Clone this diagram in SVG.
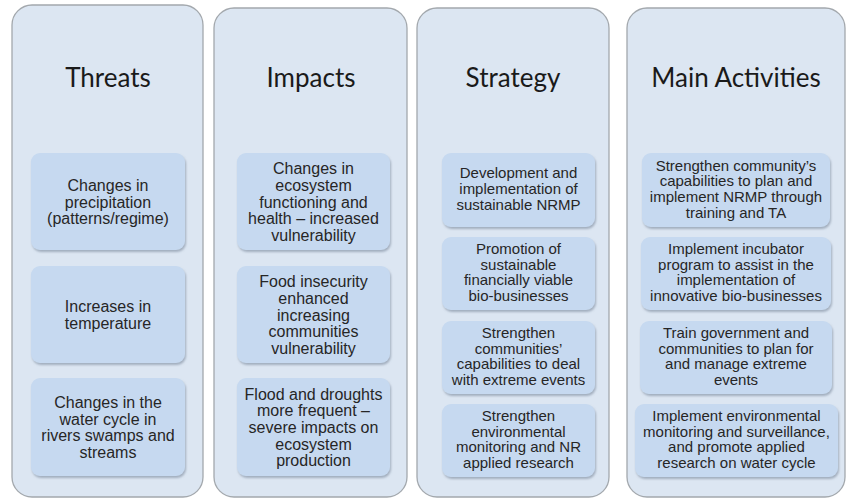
<svg xmlns="http://www.w3.org/2000/svg" width="847" height="499" viewBox="0 0 847 499">
<defs>
<filter id="sh" x="-10%" y="-10%" width="125%" height="130%">
<feDropShadow dx="1" dy="2" stdDeviation="1.2" flood-color="#6f7f93" flood-opacity="0.55"/>
</filter>
<style>
.col{fill:#dce6f2;stroke:#a3a8ad;stroke-width:1.3}
.box{fill:#c6d9f0;filter:url(#sh)}
.title{font-family:Lato,"Open Sans",sans-serif;font-size:26px;fill:#1a1a1a;text-anchor:middle}
.t16{font-family:"Liberation Sans",Arial,sans-serif;font-size:16px;fill:#262626;text-anchor:middle}
.t15{font-family:"Liberation Sans",Arial,sans-serif;font-size:15px;fill:#262626;text-anchor:middle}
</style>
</defs>
<rect width="847" height="499" fill="#ffffff"/>

<g id="threats">
<rect class="col" x="12" y="5" width="191" height="492" rx="20"/>
<text class="title" x="108" y="87">Threats</text>
</g>
<g id="impacts">
<rect class="col" x="214" y="8" width="193" height="489" rx="20"/>
<text class="title" x="311" y="87">Impacts</text>
</g>
<g id="strategy">
<rect class="col" x="417" y="8" width="192" height="489" rx="20"/>
<text class="title" x="513" y="87">Strategy</text>
</g>
<g id="activities">
<rect class="col" x="627" y="8" width="218" height="489" rx="20"/>
<text class="title" x="736" y="87">Main Activities</text>
</g>

<g id="connectors"></g>

<g id="threat1">
<rect class="box" x="31" y="153" width="154" height="97" rx="9"/>
<text class="t16"><tspan x="108" y="190.8">Changes in</tspan><tspan x="108" y="207.5">precipitation</tspan><tspan x="108" y="224.2">(patterns/regime)</tspan></text>
</g>
<g id="threat2">
<rect class="box" x="31" y="266" width="154" height="97" rx="9"/>
<text class="t16"><tspan x="108" y="312.2">Increases in</tspan><tspan x="108" y="328.9">temperature</tspan></text>
</g>
<g id="threat3">
<rect class="box" x="31" y="378" width="154" height="98" rx="9"/>
<text class="t16"><tspan x="108" y="408">Changes in the</tspan><tspan x="108" y="424.7">water cycle in</tspan><tspan x="108" y="441.4">rivers swamps and</tspan><tspan x="108" y="458.1">streams</tspan></text>
</g>

<g id="impact1">
<rect class="box" x="237" y="153" width="153" height="97" rx="9"/>
<text class="t16"><tspan x="313.5" y="174.1">Changes in</tspan><tspan x="313.5" y="190.8">ecosystem</tspan><tspan x="313.5" y="207.5">functioning and</tspan><tspan x="313.5" y="224.2">health – increased</tspan><tspan x="313.5" y="240.9">vulnerability</tspan></text>
</g>
<g id="impact2">
<rect class="box" x="237" y="266" width="153" height="97" rx="9"/>
<text class="t16"><tspan x="313.5" y="287.1">Food insecurity</tspan><tspan x="313.5" y="303.8">enhanced</tspan><tspan x="313.5" y="320.5">increasing</tspan><tspan x="313.5" y="337.2">communities</tspan><tspan x="313.5" y="353.9">vulnerability</tspan></text>
</g>
<g id="impact3">
<rect class="box" x="237" y="378" width="153" height="98" rx="9"/>
<text class="t16"><tspan x="313.5" y="399.6">Flood and droughts</tspan><tspan x="313.5" y="416.3">more frequent –</tspan><tspan x="313.5" y="433">severe impacts on</tspan><tspan x="313.5" y="449.7">ecosystem</tspan><tspan x="313.5" y="466.4">production</tspan></text>
</g>

<g id="strategy1">
<rect class="box" x="442" y="153" width="153" height="74" rx="9"/>
<text class="t15"><tspan x="518.5" y="178.3">Development and</tspan><tspan x="518.5" y="194">implementation of</tspan><tspan x="518.5" y="209.7">sustainable NRMP</tspan></text>
</g>
<g id="strategy2">
<rect class="box" x="442" y="237" width="153" height="73" rx="9"/>
<text class="t15"><tspan x="518.5" y="254">Promotion of</tspan><tspan x="518.5" y="269.7">sustainable</tspan><tspan x="518.5" y="285.4">financially viable</tspan><tspan x="518.5" y="301.1">bio-businesses</tspan></text>
</g>
<g id="strategy3">
<rect class="box" x="442" y="321" width="153" height="73" rx="9"/>
<text class="t15"><tspan x="518.5" y="338">Strengthen</tspan><tspan x="518.5" y="353.7">communities’</tspan><tspan x="518.5" y="369.4">capabilities to deal</tspan><tspan x="518.5" y="385.1">with extreme events</tspan></text>
</g>
<g id="strategy4">
<rect class="box" x="442" y="404" width="153" height="73" rx="9"/>
<text class="t15"><tspan x="518.5" y="421">Strengthen</tspan><tspan x="518.5" y="436.7">environmental</tspan><tspan x="518.5" y="452.4">monitoring and NR</tspan><tspan x="518.5" y="468.1">applied research</tspan></text>
</g>

<g id="activity1">
<rect class="box" x="642" y="153" width="188" height="74" rx="9"/>
<text class="t15"><tspan x="736" y="170.5">Strengthen community’s</tspan><tspan x="736" y="186.2">capabilities to plan and</tspan><tspan x="736" y="201.9">implement NRMP through</tspan><tspan x="736" y="217.6">training and TA</tspan></text>
</g>
<g id="activity2">
<rect class="box" x="641" y="237" width="190" height="73" rx="9"/>
<text class="t15"><tspan x="736" y="254">Implement incubator</tspan><tspan x="736" y="269.7">program to assist in the</tspan><tspan x="736" y="285.4">implementation of</tspan><tspan x="736" y="301.1">innovative bio-businesses</tspan></text>
</g>
<g id="activity3">
<rect class="box" x="640" y="321" width="192" height="73" rx="9"/>
<text class="t15"><tspan x="736" y="338">Train government and</tspan><tspan x="736" y="353.7">communities to plan for</tspan><tspan x="736" y="369.4">and manage extreme</tspan><tspan x="736" y="385.1">events</tspan></text>
</g>
<g id="activity4">
<rect class="box" x="635" y="404" width="203" height="73" rx="9"/>
<text class="t15"><tspan x="736.5" y="421">Implement environmental</tspan><tspan x="736.5" y="436.7">monitoring and surveillance,</tspan><tspan x="736.5" y="452.4">and promote applied</tspan><tspan x="736.5" y="468.1">research on water cycle</tspan></text>
</g>
</svg>
